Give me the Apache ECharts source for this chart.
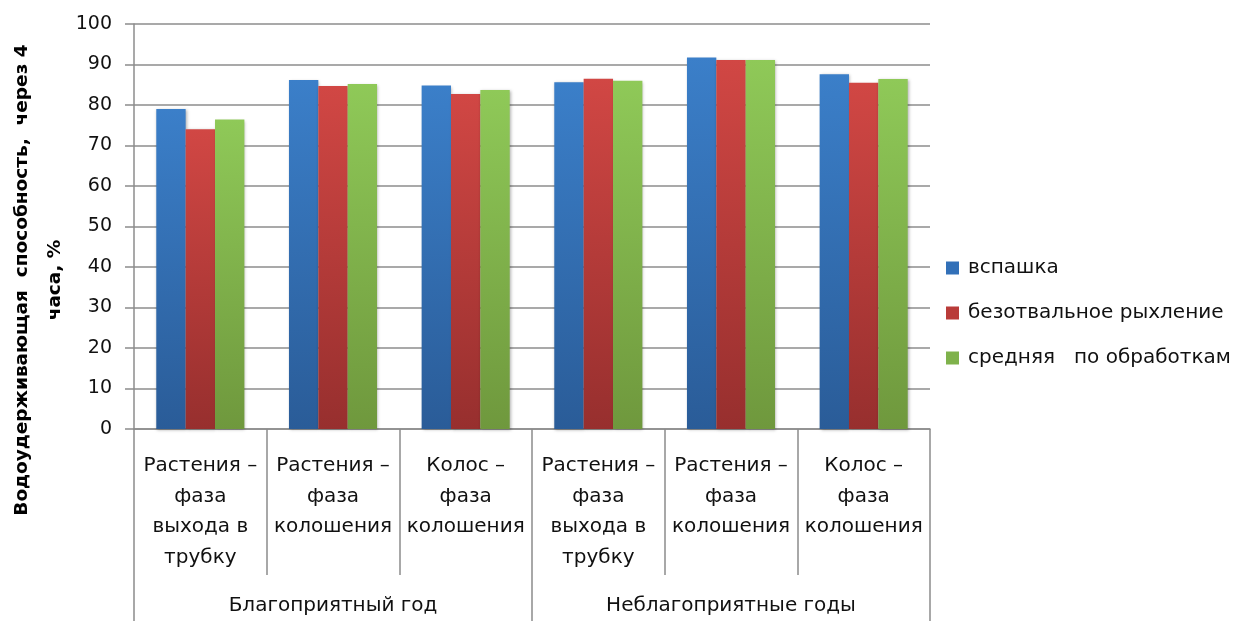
<!DOCTYPE html>
<html>
<head>
<meta charset="utf-8">
<script src="https://cdn.jsdelivr.net/npm/echarts@6/dist/echarts.min.js"></script>
<style>
  html, body { margin: 0; padding: 0; background: #fff; }
  #chart { width: 1237px; height: 621px; }
</style>
</head>
<body>
<div id="chart"></div>
<script>
// Phases of measurement (inner category row)
const phases = [
  'Растения –\nфаза\nвыхода в\nтрубку',
  'Растения –\nфаза\nколошения',
  'Колос –\nфаза\nколошения',
  'Растения –\nфаза\nвыхода в\nтрубку',
  'Растения –\nфаза\nколошения',
  'Колос –\nфаза\nколошения'
];
// Year groups (outer category row)
const yearGroups = ['Благоприятный год', 'Неблагоприятные годы'];

const seriesNames = ['вспашка', 'безотвальное рыхление', 'средняя   по обработкам'];

// Water-holding capacity after 4 hours, %
const plowing   = [79.0, 86.2, 84.8, 85.6, 91.7, 87.6];
const loosening = [74.0, 84.7, 82.7, 86.5, 91.1, 85.5];
const average   = [76.4, 85.2, 83.7, 86.0, 91.1, 86.4];

const yTicks = { min: 0, max: 100, interval: 10 };

const axisTitle = 'Водоудерживающая  способность,  через 4\nчаса, %';

const gridColor = '#8c8c8c';

function grad(top, bottom) {
  return new echarts.graphic.LinearGradient(0, 0, 0, 1, [
    { offset: 0, color: top },
    { offset: 1, color: bottom }
  ]);
}

const palette = [
  grad('#3b7fc9', '#2a5c98'),
  grad('#d14744', '#972f2e'),
  grad('#8fc958', '#6f983d')
];
const legendColors = ['#3270b8', '#b93b39', '#7fb24b'];

const chart = echarts.init(document.getElementById('chart'));

const values = [plowing, loosening, average];

chart.setOption({
  animation: false,
  backgroundColor: '#ffffff',
  textStyle: { fontFamily: 'DejaVu Sans' },
  grid: { left: 134, right: 307, top: 24, bottom: 192 },
  legend: {
    orient: 'vertical',
    left: 941,
    top: 253,
    itemWidth: 13,
    itemHeight: 13,
    itemGap: 25,
    icon: 'rect',
    textStyle: { fontSize: 20, color: '#111', fontFamily: 'DejaVu Sans', padding: [0, 0, 0, 4] },
    data: seriesNames.map((n, i) => ({ name: n, itemStyle: { color: legendColors[i] } }))
  },
  xAxis: [
    {
      type: 'category',
      data: phases,
      position: 'bottom',
      axisLine: { show: true, lineStyle: { color: gridColor, width: 1.5 } },
      axisTick: { show: true, interval: 0, length: 146, lineStyle: { color: gridColor, width: 1.5 } },
      axisLabel: {
        interval: 0,
        margin: 22,
        fontSize: 20,
        lineHeight: 30.5,
        color: '#111',
        fontFamily: 'DejaVu Sans',
        verticalAlign: 'top'
      }
    },
    {
      type: 'category',
      data: yearGroups,
      position: 'bottom',
      gridIndex: 0,
      axisLine: { show: false },
      axisTick: { show: true, interval: 0, length: 192, lineStyle: { color: gridColor, width: 1.5 } },
      axisLabel: {
        interval: 0,
        margin: 167,
        fontSize: 20,
        color: '#111',
        fontFamily: 'DejaVu Sans',
        verticalAlign: 'top'
      }
    }
  ],
  yAxis: {
    type: 'value',
    min: yTicks.min,
    max: yTicks.max,
    interval: yTicks.interval,
    axisLine: { show: true, lineStyle: { color: gridColor, width: 1.5 } },
    axisTick: { show: true, length: 9, lineStyle: { color: gridColor, width: 1.5 } },
    axisLabel: { margin: 22, fontSize: 19, color: '#111', fontFamily: 'DejaVu Sans' },
    splitLine: { show: true, lineStyle: { color: gridColor, width: 1.5 } }
  },
  graphic: [
    {
      type: 'text',
      x: 39,
      y: 280,
      rotation: Math.PI / 2,
      style: {
        text: axisTitle,
        font: 'bold 18.5px "DejaVu Sans"',
        fill: '#000',
        textAlign: 'center',
        textVerticalAlign: 'middle',
        lineHeight: 33
      }
    }
  ],
  series: seriesNames.map((name, i) => ({
    name: name,
    type: 'bar',
    xAxisIndex: 0,
    data: values[i],
    barGap: '0%',
    barCategoryGap: '33.6%',
    itemStyle: {
      color: palette[i],
      shadowColor: 'rgba(0,0,0,0.3)',
      shadowBlur: 3,
      shadowOffsetX: 1,
      shadowOffsetY: 1
    }
  }))
});
</script>
</body>
</html>
